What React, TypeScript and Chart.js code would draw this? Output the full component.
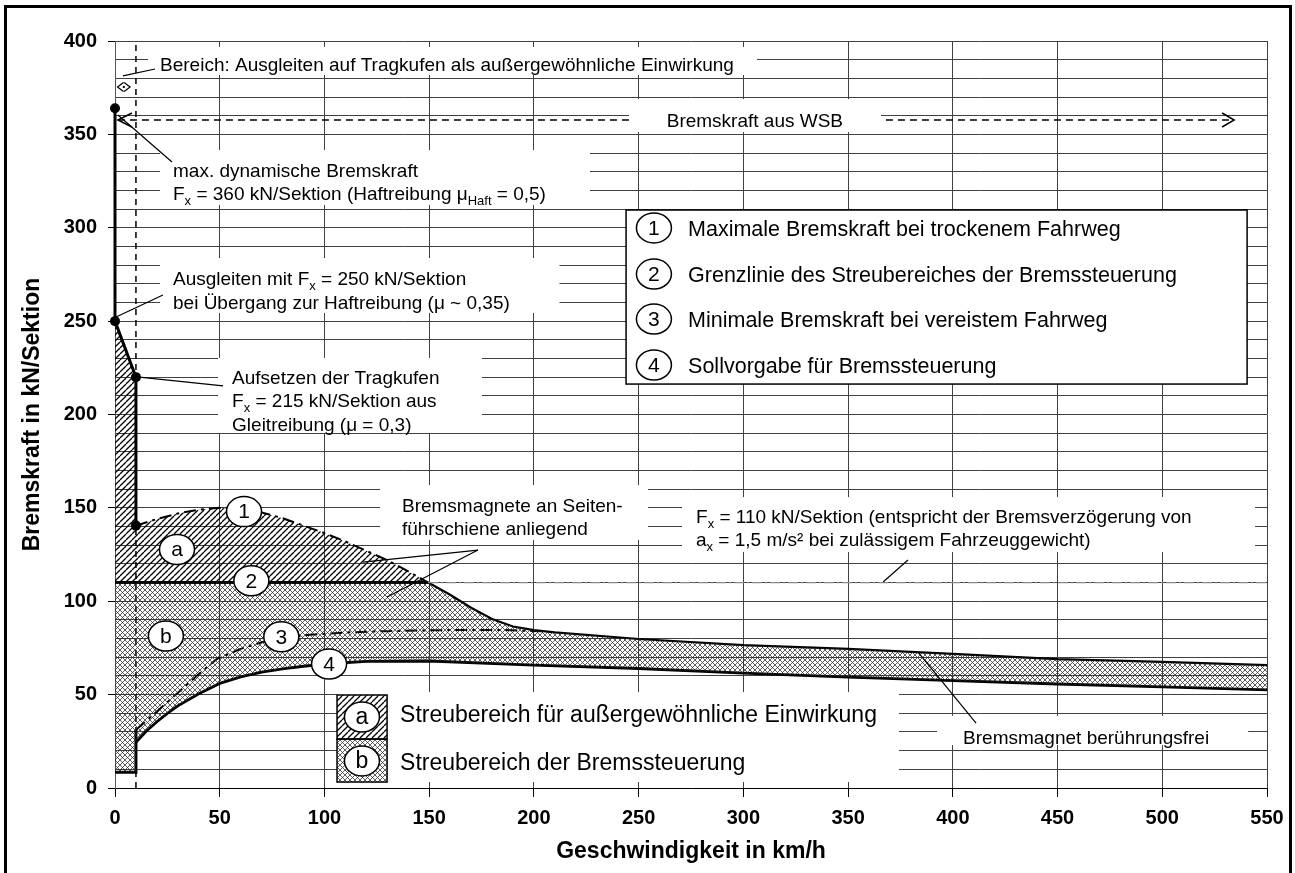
import React, { useEffect, useRef } from 'react';
import { Chart, registerables } from 'chart.js';

Chart.register(...registerables);

const FONT = '"Liberation Sans", Arial, Helvetica, sans-serif';

// ---------------- data ----------------
// left edge (sliding on skids): max. dynamic force -> 250 -> 220 -> 140
const speedEdge = [0, 0, 10, 10];
const forceEdge = [364, 250, 220, 140.5];
// curve 1: max. braking force, dry guideway
const speedMax = [10, 20, 30, 40, 50, 60, 70, 80, 90, 100, 110, 120, 130, 140, 149.5];
const forceMax = [140.5, 144, 147, 149, 150, 149.5, 147.5, 144.5, 140.5, 136.5, 132, 127, 122, 116, 110];
// curve 2: limit line 110 kN
const speedLimit = [0, 149.5, 550];
const forceLimit = [110, 110, 110];
// upper boundary of scatter band b (after crossing 110)
const speedUpper = [149.5, 160, 170, 180, 190, 200, 210, 250, 300, 350, 400, 450, 500, 550];
const forceUpper = [110, 103.5, 96.5, 90.5, 86.5, 84.5, 83.3, 79.8, 76.5, 74.5, 71.8, 69, 67.5, 65.8];
// curve 3: min. braking force, iced guideway
const speedIce = [10, 20, 30, 40, 48.5, 60, 70, 80, 93, 110, 130, 160, 185, 205];
const forceIce = [31, 41, 51, 61, 69, 74.5, 78, 80.5, 82, 83.3, 84, 84.6, 84.6, 83.9];
// curve 4: target value for brake control
const speedSoll = [10, 15, 20, 25, 30, 40, 50, 60, 70, 80, 90, 100, 120, 150, 200, 250, 300, 350, 400, 450, 500, 550];
const forceSoll = [24.5, 30.5, 35.5, 40, 44, 50.5, 56, 59.5, 62, 63.8, 65.2, 66.4, 67.8, 68, 65.8, 64, 61.5, 59.4, 57.5, 55.7, 54.2, 52.5];
// low-speed floor
const speedFloor = [0, 10, 10];
const forceFloor = [8.5, 8.5, 31];
// markers
const speedDots = [0, 0, 10, 10];
const forceDots = [364, 250, 220, 140.5];
// vertical dashed line at 10 km/h and WSB arrow
const speedTen = [10, 10];
const forceTen = [0, 400];
const speedWsb = [1.4, 534.3];
const forceWsb = [357.7, 357.7];

const legendTop = [
  ['1', 'Maximale Bremskraft bei trockenem Fahrweg'],
  ['2', 'Grenzlinie des Streubereiches der Bremssteuerung'],
  ['3', 'Minimale Bremskraft bei vereistem Fahrweg'],
  ['4', 'Sollvorgabe für Bremssteuerung'],
];
const legendBottom = [
  ['a', 'Streubereich für außergewöhnliche Einwirkung'],
  ['b', 'Streubereich der Bremssteuerung'],
];

// ------------- annotations (data coordinates) -------------
const notes: any[] = [
  { box: [15.8, 306.5, 396.8, 381.8], x: 21.5, ys: [387.7], lines: ['Bereich: Ausgleiten auf Tragkufen als außergewöhnliche Einwirkung'] },
  { box: [245.4, 365.7, 368.9, 351.3], x: 305.5, align: 'center', ys: [357.7], lines: ['Bremskraft aus WSB'] },
  { box: [21.5, 226.8, 341.6, 312.2], x: 27.7, ys: [330.9, 318.6], lines: ['max. dynamische Bremskraft', 'F_{x} = 360 kN/Sektion (Haftreibung μ_{Haft} = 0,5)'] },
  { box: [21.5, 212.2, 283.8, 254.4], x: 27.7, ys: [273.1, 260.2], lines: ['Ausgleiten mit F_{x} = 250 kN/Sektion', 'bei Übergang zur Haftreibung (μ ~ 0,35)'] },
  { box: [49.2, 175.2, 230.3, 190.1], x: 55.9, ys: [220.1, 207.8, 194.9], lines: ['Aufsetzen der Tragkufen', 'F_{x} = 215 kN/Sektion aus', 'Gleitreibung (μ = 0,3)'] },
  { box: [126.5, 254.5, 162.2, 132.8], x: 137, ys: [151.5, 139.2], lines: ['Bremsmagnete an Seiten-', 'führschiene anliegend'] },
  { box: [270.7, 544.3, 155.8, 126.4], x: 277.4, ys: [145.6, 133.3], lines: ['F_{x} = 110 kN/Sektion (entspricht der Bremsverzögerung von', 'a_{x} = 1,5 m/s² bei zulässigem Fahrzeuggewicht)'] },
  { box: [392.5, 541, 38.6, 23.0], x: 404.9, ys: [27.3], lines: ['Bremsmagnet berührungsfrei'] },
];
const pointers = [
  [3.8, 381.3, 19.1, 385.0],
  [1.4, 360.4, 27.2, 335.2],
  [0.5, 252.2, 22.9, 264.0],
  [10.5, 220.1, 51.6, 215.3],
  [173.3, 127.4, 118.4, 121.0],
  [173.3, 127.4, 129.9, 102.3],
  [378.6, 122.1, 366.7, 110.3],
  [383.4, 72.8, 411.1, 34.8],
];
const bubbles = [
  { t: '1', x: 61.6, y: 148 },
  { t: 'a', x: 29.6, y: 127.7 },
  { t: '2', x: 65.1, y: 111 },
  { t: 'b', x: 24.3, y: 81.4 },
  { t: '3', x: 79.4, y: 81 },
  { t: '4', x: 102.2, y: 66.4 },
];

const pts = (xs: number[], ys: number[]) => xs.map((v, i) => ({ x: v, y: ys[i] }));

function makePattern(g: CanvasRenderingContext2D, cross: boolean): CanvasPattern {
  const n = cross ? 5 : 6;
  const c = document.createElement('canvas');
  c.width = n;
  c.height = n;
  const t = c.getContext('2d')!;
  t.strokeStyle = cross ? '#2a2a2a' : '#000';
  t.lineWidth = cross ? 0.75 : 1.25;
  for (let k = -1; k <= 1; k++) {
    t.beginPath();
    t.moveTo(k * n, n);
    t.lineTo(k * n + n, 0);
    t.stroke();
    if (cross) {
      t.beginPath();
      t.moveTo(k * n, 0);
      t.lineTo(k * n + n, n);
      t.stroke();
    }
  }
  return g.createPattern(c, 'repeat')!;
}

type Seg = { t: string; sub?: boolean };
function parseRich(s: string): Seg[] {
  const out: Seg[] = [];
  const re = /_\{([^}]*)\}/g;
  let last = 0;
  let m: any;
  while ((m = re.exec(s))) {
    if (m.index > last) out.push({ t: s.slice(last, m.index) });
    out.push({ t: m[1], sub: true });
    last = re.lastIndex;
  }
  if (last < s.length) out.push({ t: s.slice(last) });
  return out;
}
function drawRich(ctx: CanvasRenderingContext2D, s: string, x: number, cy: number, size: number, align = 'left') {
  const segs = parseRich(s);
  const main = `${size}px ${FONT}`;
  const small = `${Math.round(size * 0.66)}px ${FONT}`;
  let w = 0;
  for (const sg of segs) {
    ctx.font = sg.sub ? small : main;
    w += ctx.measureText(sg.t).width;
  }
  let cx = align === 'center' ? x - w / 2 : x;
  const base = cy + size * 0.36;
  ctx.textAlign = 'left';
  ctx.textBaseline = 'alphabetic';
  ctx.fillStyle = '#000';
  for (const sg of segs) {
    ctx.font = sg.sub ? small : main;
    ctx.fillText(sg.t, cx, sg.sub ? base + size * 0.27 : base);
    cx += ctx.measureText(sg.t).width;
  }
}
function bubble(ctx: CanvasRenderingContext2D, t: string, cx: number, cy: number, size = 21) {
  ctx.beginPath();
  ctx.ellipse(cx, cy, 17.5, 15, 0, 0, Math.PI * 2);
  ctx.fillStyle = '#fff';
  ctx.fill();
  ctx.lineWidth = 1.5;
  ctx.strokeStyle = '#000';
  ctx.stroke();
  ctx.fillStyle = '#000';
  ctx.font = `${size}px ${FONT}`;
  ctx.textAlign = 'center';
  ctx.textBaseline = 'middle';
  ctx.fillText(t, cx, cy + 1);
}

const annotationPlugin: any = {
  id: 'annotations',
  afterDatasetsDraw(chart: any) {
    const { ctx, scales } = chart;
    const X = (v: number) => scales.x.getPixelForValue(v);
    const Y = (v: number) => scales.y.getPixelForValue(v);
    const hatchA = chart.$hatchA;
    const hatchB = chart.$hatchB;
    ctx.save();
    // white text boxes
    for (const n of notes) {
      const [x0, x1, y0, y1] = n.box;
      ctx.fillStyle = '#fff';
      ctx.fillRect(X(x0), Y(y0), X(x1) - X(x0), Y(y1) - Y(y0));
      n.lines.forEach((l: string, i: number) => drawRich(ctx, l, X(n.x), Y(n.ys[i]), 19, n.align || 'left'));
    }
    // pointer lines
    ctx.strokeStyle = '#000';
    ctx.lineWidth = 1.2;
    ctx.setLineDash([]);
    for (const p of pointers) {
      ctx.beginPath();
      ctx.moveTo(X(p[0]), Y(p[1]));
      ctx.lineTo(X(p[2]), Y(p[3]));
      ctx.stroke();
    }
    // arrow heads of WSB line
    const ty = Y(forceWsb[0]);
    const tr = X(speedWsb[1]);
    const tl = X(speedWsb[0]);
    ctx.lineWidth = 1.5;
    ctx.beginPath();
    ctx.moveTo(tr - 12, ty - 7);
    ctx.lineTo(tr, ty);
    ctx.lineTo(tr - 12, ty + 7);
    ctx.moveTo(tl + 14, ty - 7);
    ctx.lineTo(tl, ty);
    ctx.lineTo(tl + 14, ty + 7);
    ctx.stroke();
    // small range arrow 0..10 km/h
    const ry = Y(375.4);
    const r0 = X(1.2), r1 = X(7.2);
    ctx.lineWidth = 1.2;
    ctx.beginPath();
    ctx.moveTo(r0 + 6, ry - 4.5);
    ctx.lineTo(r0, ry);
    ctx.lineTo(r0 + 6, ry + 4.5);
    ctx.moveTo(r1 - 6, ry - 4.5);
    ctx.lineTo(r1, ry);
    ctx.lineTo(r1 - 6, ry + 4.5);
    ctx.stroke();
    ctx.fillStyle = '#000';
    ctx.fillRect((r0 + r1) / 2 - 1, ry - 1, 2, 2);
    // bubbles in plot
    for (const b of bubbles) bubble(ctx, b.t, X(b.x), Y(b.y));

    // upper legend
    {
      const bx0 = X(244), bx1 = X(540.5), by0 = Y(309.5), by1 = Y(216.3);
      ctx.fillStyle = '#fff';
      ctx.fillRect(bx0, by0, bx1 - bx0, by1 - by0);
      ctx.lineWidth = 1.5;
      ctx.strokeStyle = '#000';
      ctx.strokeRect(bx0, by0, bx1 - bx0, by1 - by0);
      const rows = [299.9, 275.2, 251.1, 226.5];
      legendTop.forEach((it, i) => {
        bubble(ctx, it[0], X(257.3), Y(rows[i]));
        drawRich(ctx, it[1], X(273.6), Y(rows[i]), 21.5);
      });
    }
    // bottom legend
    {
      const bx0 = X(106), bx1 = X(374.3), by0 = Y(51.4), by1 = Y(3.2);
      ctx.fillStyle = '#fff';
      ctx.fillRect(bx0, by0, bx1 - bx0, by1 - by0);
      const cx0 = X(106), cx1 = X(129.9);
      const cells = [
        [49.8, 26.2, hatchA],
        [26.2, 3.2, hatchB],
      ];
      const cy = [38.0, 14.5];
      const ty2 = [39.6, 13.9];
      cells.forEach((c: any, i) => {
        ctx.fillStyle = c[2];
        ctx.fillRect(cx0, Y(c[0]), cx1 - cx0, Y(c[1]) - Y(c[0]));
        ctx.lineWidth = 1.5;
        ctx.strokeStyle = '#000';
        ctx.strokeRect(cx0, Y(c[0]), cx1 - cx0, Y(c[1]) - Y(c[0]));
        bubble(ctx, legendBottom[i][0], X(117.9), Y(cy[i]), 23);
        drawRich(ctx, legendBottom[i][1], X(136.1), Y(ty2[i]), 23);
      });
    }
    ctx.restore();
  },
  afterDraw(chart: any) {
    const { ctx } = chart;
    ctx.save();
    ctx.lineWidth = 3;
    ctx.strokeStyle = '#000';
    ctx.setLineDash([]);
    ctx.strokeRect(5.5, 6.5, 1285, 885);
    ctx.restore();
  },
};

export default function App() {
  const ref = useRef<HTMLCanvasElement>(null);
  useEffect(() => {
    document.body.style.margin = '0';
    const canvas = ref.current!;
    const g = canvas.getContext('2d')!;
    const hatchA = makePattern(g, false);
    const hatchB = makePattern(g, true);

    const polyA = [
      ...pts(speedEdge, forceEdge).slice(1),
      ...pts(speedMax, forceMax).slice(1),
      { x: 0, y: 110 },
      { x: speedEdge[1], y: forceEdge[1] },
    ];
    const lower = pts(speedSoll, forceSoll).reverse();
    const polyB = [
      { x: 0, y: 110 },
      ...pts(speedUpper, forceUpper),
      ...lower,
      ...pts(speedFloor, forceFloor).slice(0, 2).reverse(),
      { x: 0, y: 110 },
    ];

    const line = (data: any[], extra: any) => ({
      data,
      borderColor: '#000',
      backgroundColor: 'transparent',
      borderWidth: 2,
      pointRadius: 0,
      tension: 0,
      fill: false,
      clip: false,
      ...extra,
    });

    const chart: any = new Chart(canvas, {
      type: 'line',
      data: {
        datasets: [
          line(polyA, { fill: 'shape', backgroundColor: hatchA, borderWidth: 0, borderColor: 'transparent' }),
          line(polyB, { fill: 'shape', backgroundColor: hatchB, borderWidth: 0, borderColor: 'transparent' }),
          line(pts(speedTen, forceTen), { borderWidth: 1.5, borderDash: [6, 5] }),
          line(pts(speedWsb, forceWsb), { borderWidth: 1.5, borderDash: [7, 5] }),
          line(pts(speedLimit, forceLimit).slice(1), { borderWidth: 1.2, borderColor: '#8a8a8a', borderDash: [10, 3, 2, 3] }),
          line(pts(speedEdge, forceEdge), { borderWidth: 3 }),
          line(pts(speedLimit, forceLimit).slice(0, 2), { borderWidth: 3 }),
          line(pts(speedUpper, forceUpper), { borderWidth: 2.2 }),
          line(pts(speedSoll, forceSoll), { borderWidth: 2.8 }),
          line(pts(speedFloor, forceFloor), { borderWidth: 3 }),
          line(pts(speedMax, forceMax), { borderWidth: 2, borderDash: [12, 5, 3, 5] }),
          line(pts(speedIce, forceIce), { borderWidth: 2, borderDash: [12, 5, 3, 5] }),
          line(pts(speedDots, forceDots), { showLine: false, pointRadius: 5, pointBackgroundColor: '#000', pointBorderColor: '#000', pointBorderWidth: 0 }),
        ],
      },
      options: {
        responsive: false,
        animation: false,
        events: [],
        layout: { padding: { left: 0, right: 28, top: 41, bottom: 0 } },
        plugins: { legend: { display: false }, tooltip: { enabled: false } },
        scales: {
          x: {
            type: 'linear',
            min: 0,
            max: 550,
            ticks: { stepSize: 50, padding: 9, autoSkip: false, maxRotation: 0, color: '#000', font: { family: FONT, size: 20, weight: 'bold' } },
            grid: { color: '#404040', lineWidth: 1, tickLength: 9, tickColor: '#000' },
            border: { color: '#000', width: 1 },
            title: { display: true, text: 'Geschwindigkeit in km/h', color: '#000', font: { family: FONT, size: 23, weight: 'bold' }, padding: { top: 0, bottom: 8 } },
            afterFit: (s: any) => {
              s.height = 85;
              s.paddingLeft = 0;
              s.paddingRight = 0;
            },
          },
          y: {
            type: 'linear',
            min: 0,
            max: 400,
            ticks: {
              stepSize: 10,
              autoSkip: false,
              padding: 11,
              color: '#000',
              font: { family: FONT, size: 20, weight: 'bold' },
              callback: (v: any) => (Number(v) % 50 === 0 ? String(v) : ''),
            },
            grid: {
              color: '#404040',
              lineWidth: 1,
              tickLength: 7,
              tickColor: (c: any) => (c.tick && c.tick.value % 50 === 0 ? '#000' : 'rgba(0,0,0,0)'),
            },
            border: { color: '#555', width: 1 },
            title: { display: true, text: 'Bremskraft in kN/Sektion', color: '#000', font: { family: FONT, size: 23, weight: 'bold' }, padding: { top: 19, bottom: 0 } },
            afterFit: (s: any) => {
              s.width = 115;
              s.paddingTop = 0;
              s.paddingBottom = 0;
            },
          },
        },
      } as any,
      plugins: [annotationPlugin],
    });
    chart.$hatchA = hatchA;
    chart.$hatchB = hatchB;
    chart.draw();
    return () => chart.destroy();
  }, []);
  return <canvas ref={ref} width={1295} height={873} style={{ display: 'block' }} />;
}
